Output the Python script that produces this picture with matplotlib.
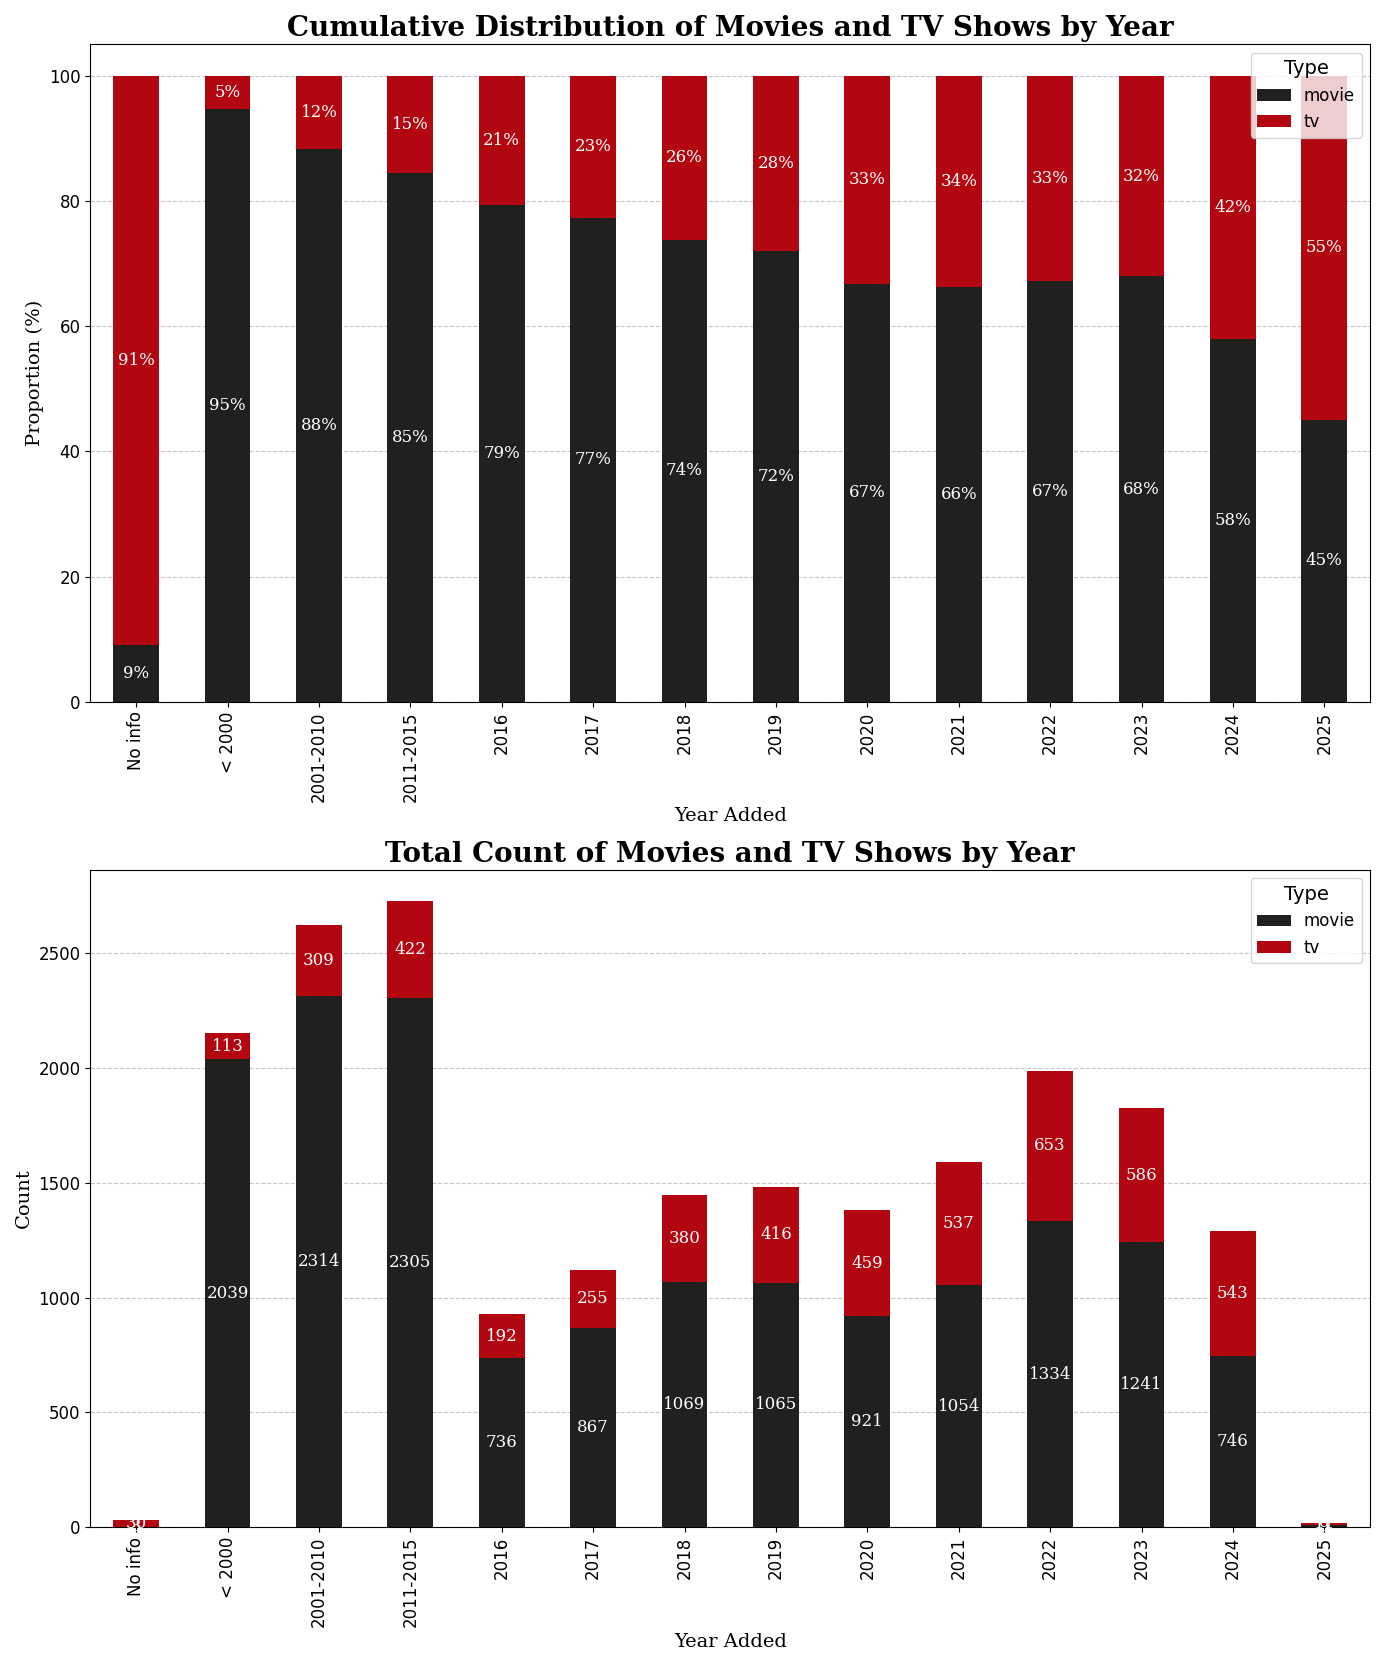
import matplotlib
matplotlib.use('Agg')
import matplotlib.pyplot as plt
import numpy as np

years = ['No info', '< 2000', '2001-2010', '2011-2015', '2016', '2017', '2018',
         '2019', '2020', '2021', '2022', '2023', '2024', '2025']
movie = [3, 2039, 2314, 2305, 736, 867, 1069, 1065, 921, 1054, 1334, 1241, 746, 9]
tv = [30, 113, 309, 422, 192, 255, 380, 416, 459, 537, 653, 586, 543, 11]

c_movie = '#221f1f'
c_tv = '#b20710'

movie = np.array(movie, dtype=float)
tv = np.array(tv, dtype=float)
tot = movie + tv
movie_pct = movie / tot * 100
tv_pct = tv / tot * 100
x = np.arange(len(years))

fig, axs = plt.subplots(2, 1, figsize=(13.85, 16.66), dpi=100)

def draw(ax, m, t, fmt, title, ylabel):
    b1 = ax.bar(x, m, 0.5, color=c_movie, label='movie', zorder=2)
    b2 = ax.bar(x, t, 0.5, bottom=m, color=c_tv, label='tv', zorder=2)
    ax.bar_label(b1, labels=[fmt(v) for v in m], label_type='center',
                 color='white', family='serif', fontsize=12)
    ax.bar_label(b2, labels=[fmt(v) for v in t], label_type='center',
                 color='white', family='serif', fontsize=12)
    ax.set_xticks(x)
    ax.set_xticklabels(years, rotation=90, fontsize=12)
    ax.tick_params(axis='y', labelsize=12)
    ax.set_xlim(-0.5, len(years) - 0.5)
    ax.grid(axis='y', linestyle='--', alpha=0.7, zorder=0)
    ax.set_title(title, fontsize=20, fontweight='bold', family='serif')
    ax.set_xlabel('Year Added', fontsize=14, family='serif')
    ax.set_ylabel(ylabel, fontsize=14, family='serif')
    ax.legend(title='Type', loc='upper right', fontsize=12, title_fontsize=14)

draw(axs[0], movie_pct, tv_pct, lambda v: '%.0f%%' % v,
     'Cumulative Distribution of Movies and TV Shows by Year', 'Proportion (%)')
draw(axs[1], movie, tv, lambda v: '%d' % v,
     'Total Count of Movies and TV Shows by Year', 'Count')

plt.tight_layout()
plt.savefig('out.png')
